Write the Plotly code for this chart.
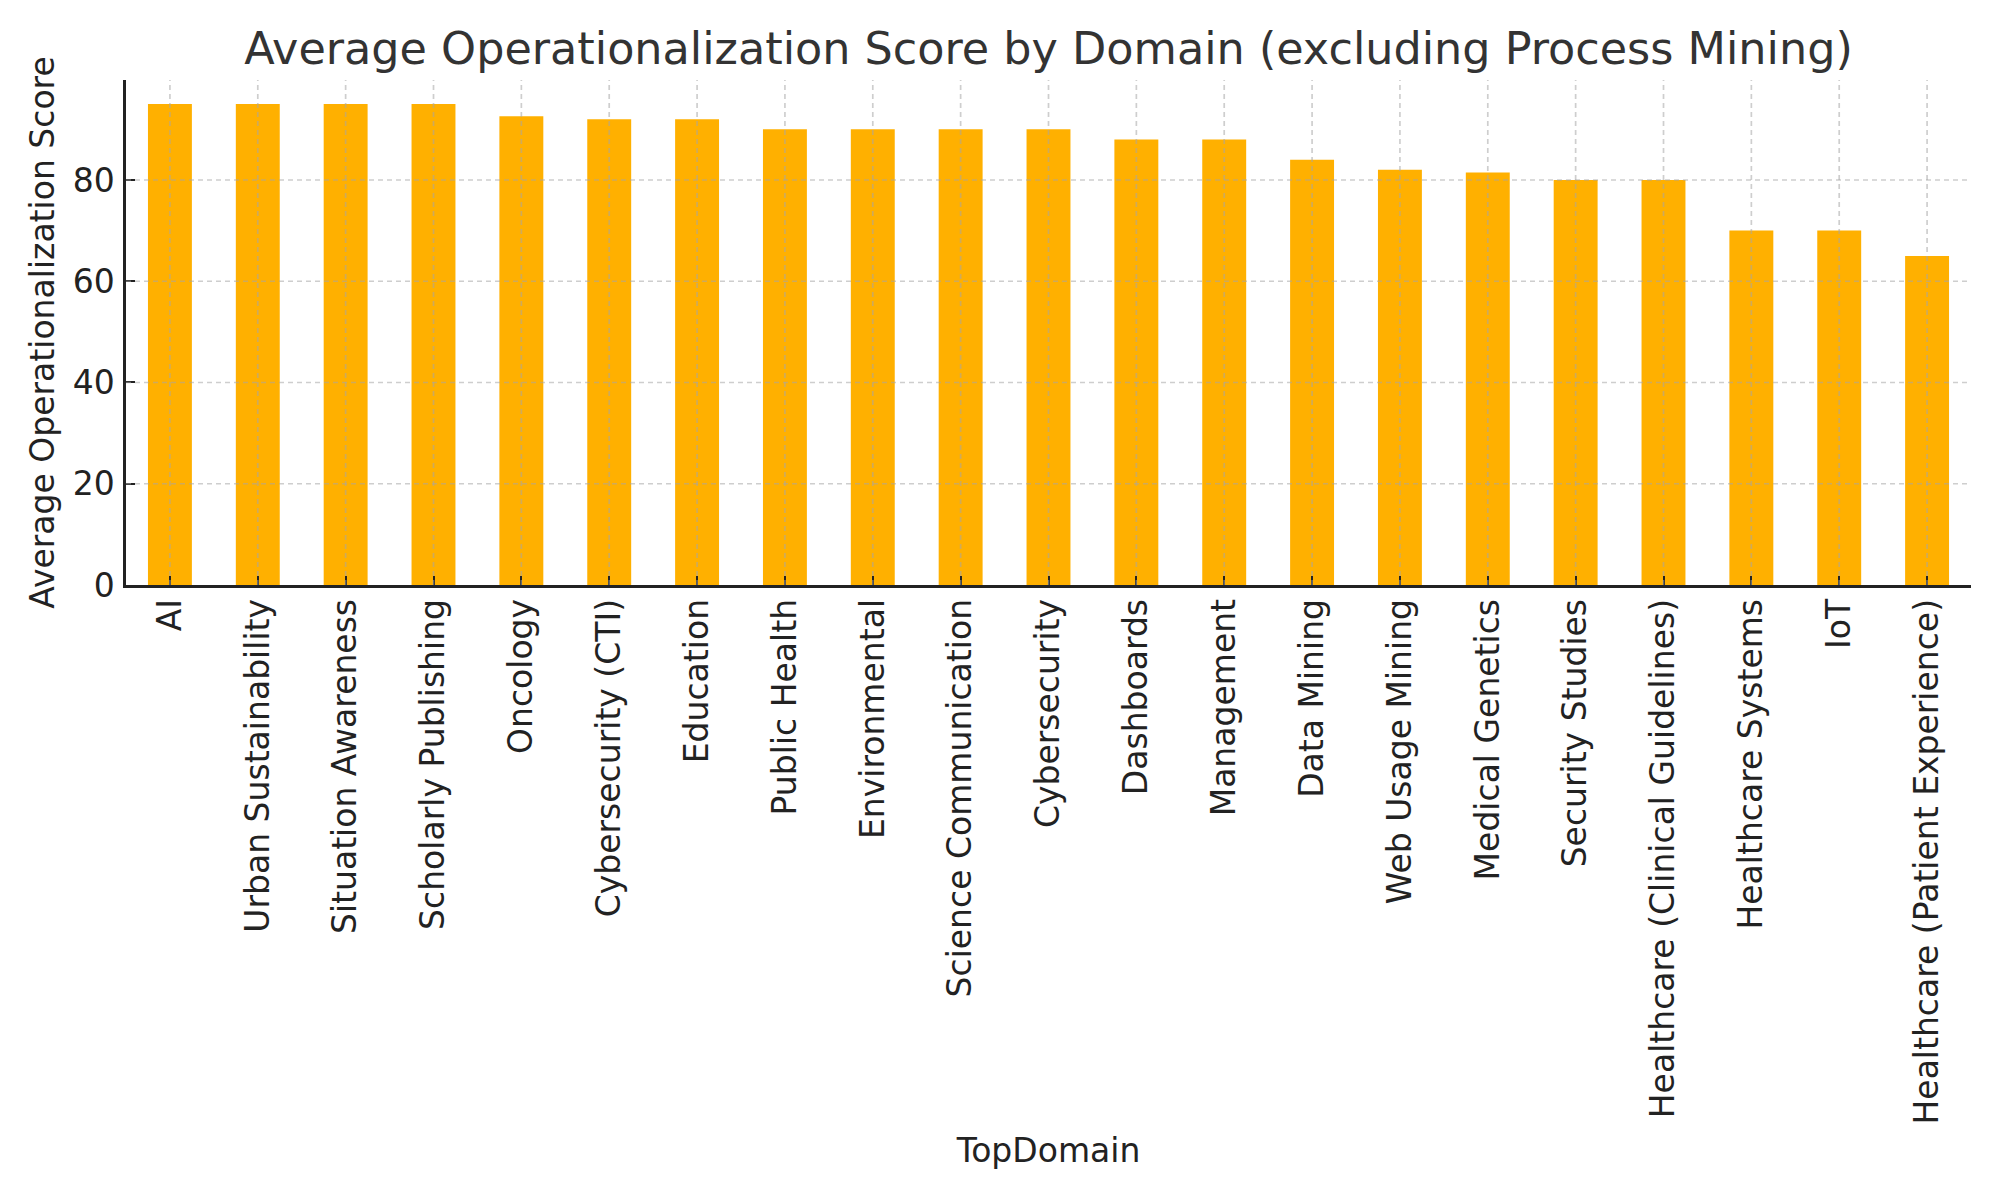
import plotly.graph_objects as go

categories = [
    "AI", "Urban Sustainability", "Situation Awareness", "Scholarly Publishing",
    "Oncology", "Cybersecurity (CTI)", "Education", "Public Health",
    "Environmental", "Science Communication", "Cybersecurity", "Dashboards",
    "Management", "Data Mining", "Web Usage Mining", "Medical Genetics",
    "Security Studies", "Healthcare (Clinical Guidelines)", "Healthcare Systems",
    "IoT", "Healthcare (Patient Experience)",
]
scores = [95, 95, 95, 95, 92.6, 92, 92, 90, 90, 90, 90, 88, 88, 84, 82, 81.5,
          80, 80, 70, 70, 65]
y_ticks = [0, 20, 40, 60, 80]

title_text = "Average Operationalization Score by Domain (excluding Process Mining)"
x_title = "TopDomain"
y_title = "Average Operationalization Score"

FONT = "DejaVu Sans"
BAR = "#FFB000"
GRID = "rgba(165,165,165,0.55)"
AX = "#222222"

ymax = max(scores) * 1.05

fig = go.Figure()
fig.add_trace(go.Bar(x=categories, y=scores, width=0.5, marker=dict(color=BAR, line=dict(width=0)),
                     showlegend=False))

# dashed grid drawn above the bars (as in the reference)
shapes = []
for c in categories:
    shapes.append(dict(type="line", xref="x", yref="paper", x0=c, x1=c, y0=0, y1=1,
                       layer="above", line=dict(color=GRID, width=1.7, dash="5px,4px")))
for t in y_ticks[1:]:
    shapes.append(dict(type="line", xref="paper", yref="y", x0=0, x1=1, y0=t, y1=t,
                       layer="above", line=dict(color=GRID, width=1.7, dash="5px,4px")))

fig.update_layout(
    width=2000, height=1200,
    margin=dict(l=118, r=37, t=72, b=623, autoexpand=False),
    paper_bgcolor="white", plot_bgcolor="white",
    font=dict(family=FONT, size=33, color=AX),
    title=dict(text=title_text, x=0.5, xref="paper", xanchor="center",
               y=1 - 40 / 1200, yref="container", yanchor="middle",
               font=dict(family=FONT, size=44.5, color="#333333")),
    shapes=shapes,
    bargap=0.5,
    xaxis=dict(
        type="category", range=[-0.5, len(categories) - 0.5],
        showgrid=False, showline=True, linecolor=AX, linewidth=2.5,
        ticks="inside", ticklen=9, tickwidth=2.2, tickcolor=AX,
        tickangle=-90, ticklabelstandoff=-2,
        tickfont=dict(family=FONT, size=33, color=AX),
        title=dict(text=x_title, standoff=16, font=dict(family=FONT, size=33, color=AX)),
        automargin=False, layer="above traces",
    ),
    yaxis=dict(
        range=[0, ymax], tickvals=y_ticks,
        showgrid=False, zeroline=False, showline=True, linecolor=AX, linewidth=2.5,
        ticks="inside", ticklen=9, tickwidth=2.2, tickcolor=AX,
        ticklabelstandoff=2,
        tickfont=dict(family=FONT, size=33, color=AX),
        title=dict(text=y_title, standoff=9, font=dict(family=FONT, size=33, color=AX)),
        automargin=False, layer="above traces",
    ),
)

fig.write_html("out.html")
